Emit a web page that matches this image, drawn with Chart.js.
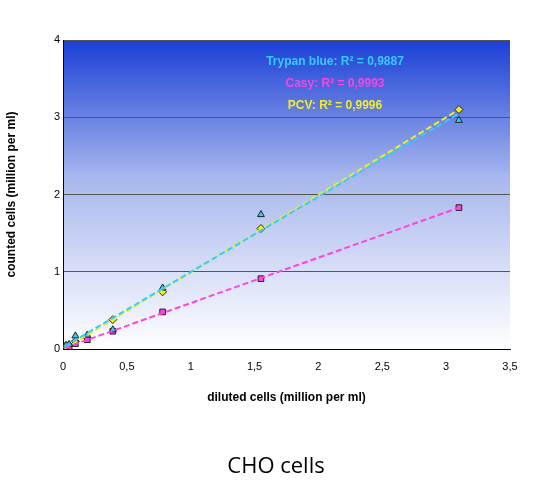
<!DOCTYPE html>
<html><head><meta charset="utf-8">
<script src="https://cdn.jsdelivr.net/npm/chart.js@4"></script>
<style>html,body{margin:0;background:#fff}#c{display:block}</style>
</head><body>
<div style="width:553px;height:493px"><canvas id="c"></canvas></div>
<script>
// ===== DATA =====
const diluted = [0.012, 0.024, 0.048, 0.097, 0.19, 0.39, 0.78, 1.55, 3.1];
const trypan = [0.03, 0.05, 0.06, 0.17, 0.18, 0.25, 0.79, 1.74, 2.96];
const casy   = [0.01, 0.02, 0.03, 0.07, 0.12, 0.23, 0.48, 0.91, 1.83];
const pcv    = [0.01, 0.03, 0.05, 0.10, 0.14, 0.38, 0.74, 1.56, 3.1];
const r2Labels = ['Trypan blue: R² = 0,9887', 'Casy: R² = 0,9993', 'PCV: R² = 0,9996'];
const colors = ['#33ccff', '#ff44dd', '#eeee22'];

const pts = ys => diluted.map((x, i) => ({ x, y: ys[i] }));
// least squares trend line over the data range
function trend(ys) {
  const n = diluted.length;
  const mx = diluted.reduce((a, b) => a + b) / n, my = ys.reduce((a, b) => a + b) / n;
  let sxy = 0, sxx = 0;
  diluted.forEach((x, i) => { sxy += (x - mx) * (ys[i] - my); sxx += (x - mx) ** 2; });
  const b = sxy / sxx, a = my - b * mx;
  const x0 = diluted[0], x1 = diluted[n - 1];
  return [{ x: x0, y: a + b * x0 }, { x: x1, y: a + b * x1 }];
}
const comma = v => String(v).replace('.', ',');

const bgPlugin = {
  id: 'bg',
  beforeDraw(chart) {
    const { ctx, chartArea: a } = chart;
    const g = ctx.createLinearGradient(0, a.top, 0, a.bottom);
    g.addColorStop(0, '#1a3fd6');
    g.addColorStop(0.45, '#a9b8ee');
    g.addColorStop(1, '#ffffff');
    ctx.save(); ctx.fillStyle = g;
    ctx.fillRect(a.left, a.top, a.right - a.left, a.bottom - a.top);
    ctx.restore();
  },
  afterDraw(chart) {
    const { ctx } = chart;
    ctx.save();
    ctx.font = 'bold 12px "Liberation Sans", Arial';
    ctx.textAlign = 'center'; ctx.textBaseline = 'middle';
    r2Labels.forEach((t, i) => { ctx.fillStyle = colors[i]; ctx.fillText(t, 335, 62 + i * 22); });
    ctx.fillStyle = '#000'; ctx.font = '22px "Open Sans", Arial';
    ctx.fillText('CHO cells', 276, 467);
    ctx.restore();
  }
};

const scatter = (ys, c, style) => ({
  data: pts(ys), backgroundColor: c, borderColor: '#222', borderWidth: 1,
  pointStyle: style, pointRadius: 4, showLine: false
});
const line = (ys, c) => ({
  data: trend(ys), borderColor: c, borderWidth: 2, borderDash: [6, 3],
  pointRadius: 0, showLine: true, fill: false
});

new Chart(document.getElementById('c'), {
  type: 'scatter',
  data: { datasets: [
    line(trypan, colors[0]), line(casy, colors[1]), line(pcv, colors[2]),
    scatter(trypan, colors[0], 'triangle'), scatter(casy, colors[1], 'rect'), scatter(pcv, colors[2], 'rectRot')
  ] },
  options: {
    responsive: true, maintainAspectRatio: false, animation: false,
    layout: { padding: { top: 40, right: 43, bottom: 84, left: 0 } },
    plugins: { legend: { display: false }, tooltip: { enabled: false } },
    scales: {
      x: {
        min: 0, max: 3.5,
        ticks: { stepSize: 0.5, color: '#000', font: { size: 11 }, callback: comma },
        grid: { display: false, drawTicks: true },
        border: { color: '#000' },
        title: { display: true, text: 'diluted cells (million per ml)', color: '#000', font: { size: 12, weight: 'bold' } },
        afterFit: s => { s.height = 60; }
      },
      y: {
        min: 0, max: 4,
        ticks: { stepSize: 1, color: '#000', font: { size: 11 } },
        grid: { color: '#555', drawTicks: false },
        border: { color: '#000' },
        title: { display: true, text: 'counted cells (million per ml)', color: '#000', font: { size: 12, weight: 'bold' } },
        afterFit: s => { s.width = 63; }
      }
    }
  },
  plugins: [bgPlugin]
});
</script>
</body></html>
